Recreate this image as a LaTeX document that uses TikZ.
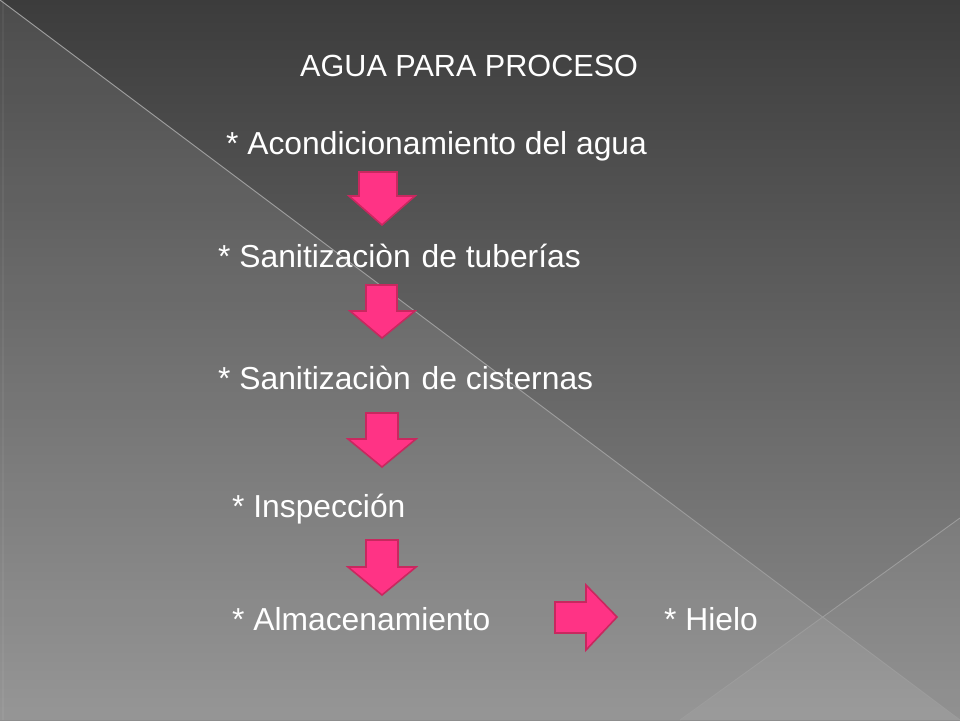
\documentclass[tikz,border=0pt]{standalone}
\usepackage{fontspec}
\setmainfont{Liberation Sans}
\begin{document}
\begin{tikzpicture}[x=1pt,y=-1pt,
  txt/.style={anchor=base west,inner sep=0pt,text=white,font=\fontsize{31.8}{38}\selectfont},
  ttl/.style={txt,font=\fontsize{30.6}{36}\selectfont},
  pinkarrow/.style={fill=arrowpink,draw=arrowedge,line width=1.6pt,line join=miter},
  edge/.style={draw=edgegray,line width=0.9pt}]
\definecolor{arrowpink}{HTML}{FF3385}
\definecolor{arrowedge}{HTML}{C8285F}
\definecolor{edgegray}{HTML}{9C9C9C}
\definecolor{bgtop}{HTML}{3C3C3C}
\definecolor{bgbot}{HTML}{8C8C8C}
\useasboundingbox (0,0) rectangle (960,720);
% background
\shade[top color=bgtop,bottom color=bgbot] (0,0) rectangle (960,720);
\fill[white,opacity=0.085] (0,0) -- (960,720) -- (0,720) -- cycle;
\fill[white,opacity=0.05] (680,720) -- (960,518) -- (960,720) -- cycle;
\draw[white,opacity=0.05,line width=1.5pt] (3,0) -- (3,720);
\coordinate (l1a) at (0,0);
\coordinate (l1b) at (960,720);
\coordinate (l2a) at (680,720);
\coordinate (l2b) at (960,518);
\draw[edge] (l1a) -- (l1b);
\draw[edge] (l2a) -- (l2b);
% texts
\node[ttl] (title) at (300,76) {AGUA PARA PROCESO};
\node[txt] (acond) at (226,154) {* Acondicionamiento del agua};
\node[txt] (tub) at (218,267) {* Sanitizaciòn\hspace{2pt} de tuberías};
\node[txt] (cis) at (218,389) {* Sanitizaciòn\hspace{2pt} de cisternas};
\node[txt] (insp) at (232,517) {* Inspección};
\node[txt] (alm) at (232,630) {* Almacenamiento};
\node[txt] (hielo) at (664,630) {* Hielo};
% block arrows
\draw[pinkarrow] (359,172) -- (397,172) -- (397,196) -- (415,196) -- (382,225) -- (349,196) -- (359,196) -- cycle;
\draw[pinkarrow] (366,285) -- (397,285) -- (397,311) -- (415,311) -- (382,338) -- (350,311) -- (366,311) -- cycle;
\draw[pinkarrow] (366,413) -- (398,413) -- (398,439) -- (416,439) -- (382,467) -- (348,439) -- (366,439) -- cycle;
\draw[pinkarrow] (366,540) -- (398,540) -- (398,567) -- (416,567) -- (382,595) -- (348,567) -- (366,567) -- cycle;
\draw[pinkarrow] (555,602) -- (586,602) -- (586,585) -- (617,617) -- (586,650) -- (586,633) -- (555,633) -- cycle;
\end{tikzpicture}
\end{document}
